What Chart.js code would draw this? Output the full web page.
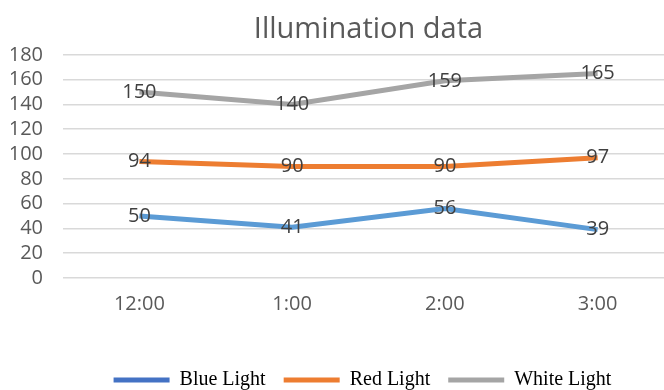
<!DOCTYPE html>
<html>
<head>
<meta charset="utf-8">
<script src="https://cdn.jsdelivr.net/npm/chart.js@4.4.1/dist/chart.umd.min.js"></script>
<style>
  html, body { margin: 0; padding: 0; background: #fff; overflow: hidden; }
  #wrap { width: 674px; height: 390px; }
</style>
</head>
<body>
<div id="wrap"><canvas id="illumChart" width="674" height="390"></canvas></div>
<script>
const times = ['12:00', '1:00', '2:00', '3:00'];
const blueLight = [50, 41, 56, 39];
const redLight = [94, 90, 90, 97];
const whiteLight = [150, 140, 159, 165];
const yTicks = [0, 20, 40, 60, 80, 100, 120, 140, 160, 180];

const sansFont = '"Open Sans", "DejaVu Sans", sans-serif';

// value labels centred on each point, like the original
const pointLabels = {
    id: 'pointLabels',
    afterDatasetsDraw(chart) {
        const ctx = chart.ctx;
        ctx.save();
        ctx.font = '20px ' + sansFont;
        ctx.fillStyle = '#404040';
        ctx.textAlign = 'center';
        ctx.textBaseline = 'middle';
        chart.data.datasets.forEach((ds, i) => {
            chart.getDatasetMeta(i).data.forEach((pt, j) => {
                ctx.fillText(String(ds.data[j]), pt.x, pt.y);
            });
        });
        ctx.restore();
    }
};

// nudge the legend a little left, it sits off-centre in the original
const legendShift = {
    id: 'legendShift',
    afterLayout(chart) {
        if (chart.legend) {
            chart.legend.left -= 6;
            chart.legend.right -= 6;
        }
    }
};

const ctx = document.getElementById('illumChart').getContext('2d');
new Chart(ctx, {
    type: 'line',
    data: {
        labels: times,
        datasets: [
            { label: 'Blue Light', data: blueLight, borderColor: '#5B9BD5', legendColor: '#4472C4' },
            { label: 'Red Light', data: redLight, borderColor: '#ED7D31', legendColor: '#ED7D31' },
            { label: 'White Light', data: whiteLight, borderColor: '#A5A5A5', legendColor: '#A5A5A5' }
        ].map(d => Object.assign(d, { borderWidth: 5, pointRadius: 0, tension: 0, fill: false }))
    },
    options: {
        responsive: false,
        animation: false,
        layout: { padding: { left: 11, right: 0, top: 12, bottom: -10 } },
        plugins: {
            title: {
                display: true,
                text: 'Illumination data',
                fullSize: false,
                color: '#595959',
                font: { family: sansFont, size: 29, weight: 'normal' },
                padding: { top: 0, bottom: 8 }
            },
            legend: {
                position: 'bottom',
                fullSize: false,
                labels: {
                    boxWidth: 56,
                    boxHeight: 5,
                    padding: 18,
                    color: '#262626',
                    font: { family: '"Liberation Serif", "Times New Roman", serif', size: 20 },
                    generateLabels(chart) {
                        return chart.data.datasets.map((ds, i) => ({
                            text: ds.label,
                            fillStyle: ds.legendColor,
                            strokeStyle: ds.legendColor,
                            lineWidth: 0,
                            datasetIndex: i
                        }));
                    }
                }
            },
            tooltip: { enabled: false }
        },
        scales: {
            x: {
                offset: true,
                grid: { display: false, drawTicks: false },
                border: { display: false },
                ticks: { color: '#595959', font: { family: sansFont, size: 20 }, padding: 14 },
                afterFit(axis) {
                    axis.height += 22;
                    axis.paddingLeft = 0;
                    axis.paddingRight = 0;
                }
            },
            y: {
                min: 0,
                max: 180,
                afterBuildTicks(axis) { axis.ticks = yTicks.map(v => ({ value: v })); },
                grid: { color: '#D9D9D9', lineWidth: 1.5, drawTicks: false },
                border: { display: false },
                ticks: { color: '#595959', font: { family: sansFont, size: 20 }, padding: 20, autoSkip: false },
                afterFit(axis) { axis.width = 52; }
            }
        }
    },
    plugins: [pointLabels, legendShift]
});
</script>
</body>
</html>
